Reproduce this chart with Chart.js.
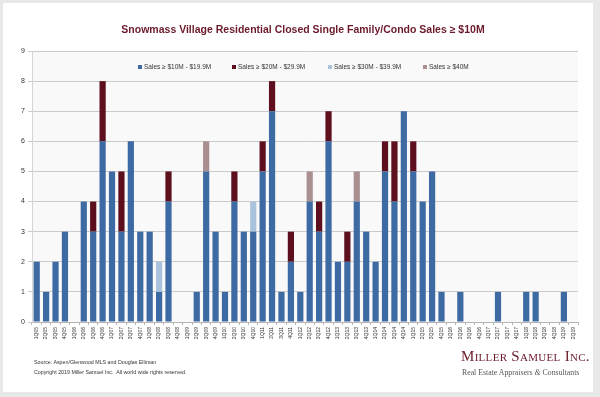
<!DOCTYPE html>
<html>
<head>
<meta charset="utf-8">
<script src="https://cdn.jsdelivr.net/npm/chart.js@4.4.0/dist/chart.umd.min.js"></script>
<style>
    body { margin: 0; background: #e8e8e8; width: 600px; height: 397px; overflow: hidden; }
    .card { position: absolute; left: 3px; top: 3px; width: 590px; height: 389px; background: #fff; }
    #chart { position: absolute; left: 0; top: 0; }
    .note { position: absolute; left: 34px; font-family: Arial, "Liberation Sans", sans-serif; font-size: 5.3px; color: #333; }
    .logo { position: absolute; left: 461px; top: 348px; font-family: "Liberation Serif", "Times New Roman", serif; font-variant: small-caps; font-size: 15px; color: #6b1a2a; letter-spacing: 0.3px; }
    .tag { position: absolute; left: 462px; top: 368px; font-family: "Liberation Serif", "Times New Roman", serif; font-size: 7.8px; color: #555; }
</style>
</head>
<body>
<div class="card"></div>
<canvas id="chart" width="600" height="397"></canvas>
<div class="note" style="top:359px">Source: Aspen/Glenwood MLS and Douglas Elliman</div>
<div class="note" style="top:369px">Copyright 2019 Miller Samuel Inc.&nbsp; All world wide rights reserved.</div>
<div class="logo">Miller Samuel Inc.</div>
<div class="tag">Real Estate Appraisers <i>&amp;</i> Consultants</div>
<script>
// Quarters 1Q05 .. 2Q19
const quarters = [
    '1Q05', '2Q05', '3Q05', '4Q05', '1Q06', '2Q06', '3Q06', '4Q06',
    '1Q07', '2Q07', '3Q07', '4Q07', '1Q08', '2Q08', '3Q08', '4Q08',
    '1Q09', '2Q09', '3Q09', '4Q09', '1Q10', '2Q10', '3Q10', '4Q10',
    '1Q11', '2Q11', '3Q11', '4Q11', '1Q12', '2Q12', '3Q12', '4Q12',
    '1Q13', '2Q13', '3Q13', '4Q13', '1Q14', '2Q14', '3Q14', '4Q14',
    '1Q15', '2Q15', '3Q15', '4Q15', '1Q16', '2Q16', '3Q16', '4Q16',
    '1Q17', '2Q17', '3Q17', '4Q17', '1Q18', '2Q18', '3Q18', '4Q18',
    '1Q19', '2Q19'
];

const sales10to20 = [
    2, 1, 2, 3, 0, 4, 3, 6,
    5, 3, 6, 3, 3, 1, 4, 0,
    0, 1, 5, 3, 1, 4, 3, 3,
    5, 7, 1, 2, 1, 4, 3, 6,
    2, 2, 4, 3, 2, 5, 4, 7,
    5, 4, 5, 1, 0, 1, 0, 0,
    0, 1, 0, 0, 1, 1, 0, 0,
    1, 0
];
const sales20to30 = [
    0, 0, 0, 0, 0, 0, 1, 2,
    0, 2, 0, 0, 0, 0, 1, 0,
    0, 0, 0, 0, 0, 1, 0, 0,
    1, 1, 0, 1, 0, 0, 1, 1,
    0, 1, 0, 0, 0, 1, 2, 0,
    1, 0, 0, 0, 0, 0, 0, 0,
    0, 0, 0, 0, 0, 0, 0, 0,
    0, 0
];
const sales30to40 = [
    0, 0, 0, 0, 0, 0, 0, 0,
    0, 0, 0, 0, 0, 1, 0, 0,
    0, 0, 0, 0, 0, 0, 0, 1,
    0, 0, 0, 0, 0, 0, 0, 0,
    0, 0, 0, 0, 0, 0, 0, 0,
    0, 0, 0, 0, 0, 0, 0, 0,
    0, 0, 0, 0, 0, 0, 0, 0,
    0, 0
];
const sales40plus = [
    0, 0, 0, 0, 0, 0, 0, 0,
    0, 0, 0, 0, 0, 0, 0, 0,
    0, 0, 1, 0, 0, 0, 0, 0,
    0, 0, 0, 0, 0, 1, 0, 0,
    0, 0, 1, 0, 0, 0, 0, 0,
    0, 0, 0, 0, 0, 0, 0, 0,
    0, 0, 0, 0, 0, 0, 0, 0,
    0, 0
];

const seriesLabels = ['Sales \u2265 $10M - $19.9M', 'Sales \u2265 $20M - $29.9M', 'Sales \u2265 $30M - $39.9M', 'Sales \u2265 $40M'];
const seriesColors = ['#3e6aa4', '#5e0f1d', '#a9c3dc', '#a98f90'];
const chartTitle = 'Snowmass Village Residential Closed Single Family/Condo Sales \u2265 $10M';

// Light plot background
const plotBackground = {
    id: 'plotBackground',
    beforeDraw(chart) {
        const { ctx, chartArea } = chart;
        ctx.save();
        ctx.fillStyle = '#f9f9f9';
        ctx.fillRect(chartArea.left, chartArea.top, chartArea.width, chartArea.height);
        ctx.restore();
    }
};

// Title is centred on the card, not on the plot
const cardTitle = {
    id: 'cardTitle',
    afterDraw(chart) {
        const ctx = chart.ctx;
        ctx.save();
        ctx.font = 'bold 10.5px Arial, "Liberation Sans", sans-serif';
        ctx.fillStyle = '#6b1a2a';
        ctx.textAlign = 'center';
        ctx.textBaseline = 'middle';
        ctx.fillText(chartTitle, 303, 30);
        ctx.restore();
    }
};

// Legend sits inside the plot area, like the original
const innerLegend = {
    id: 'innerLegend',
    afterDatasetsDraw(chart) {
        const ctx = chart.ctx;
        const xs = [138, 232, 328, 423];
        const y = chart.chartArea.top + 16;
        ctx.save();
        ctx.font = '6.5px Arial, "Liberation Sans", sans-serif';
        ctx.textBaseline = 'middle';
        chart.data.datasets.forEach((ds, i) => {
            ctx.fillStyle = ds.backgroundColor;
            ctx.fillRect(xs[i], y - 2, 4, 4);
            ctx.fillStyle = '#333';
            ctx.fillText(ds.label, xs[i] + 6, y);
        });
        ctx.restore();
    }
};

new Chart(document.getElementById('chart').getContext('2d'), {
    type: 'bar',
    data: {
        labels: quarters,
        datasets: [sales10to20, sales20to30, sales30to40, sales40plus].map((values, i) => ({
            label: seriesLabels[i],
            data: values,
            backgroundColor: seriesColors[i],
            borderWidth: 0,
            barPercentage: 0.66,
            categoryPercentage: 1
        }))
    },
    options: {
        responsive: false,
        animation: false,
        layout: {
            padding: { left: 8, right: 22, top: 51, bottom: 45 }
        },
        plugins: {
            legend: { display: false },
            tooltip: { enabled: false },
            title: { display: false }
        },
        scales: {
            x: {
                stacked: true,
                grid: {
                    drawOnChartArea: false,
                    drawTicks: true,
                    tickLength: 3,
                    color: '#b5b5b5'
                },
                border: { color: '#b5b5b5' },
                ticks: {
                    autoSkip: false,
                    maxRotation: 90,
                    minRotation: 90,
                    padding: 2,
                    color: '#333',
                    font: { family: 'Arial, "Liberation Sans", sans-serif', size: 5 }
                },
                afterFit(scale) { scale.height = 30; }
            },
            y: {
                stacked: true,
                min: 0,
                max: 9,
                grid: {
                    color: '#cacaca',
                    tickLength: 4
                },
                border: { color: '#d5d5d5' },
                ticks: {
                    stepSize: 1,
                    padding: 3,
                    color: '#333',
                    font: { family: 'Arial, "Liberation Sans", sans-serif', size: 7 }
                },
                afterFit(scale) { scale.width = 24; }
            }
        }
    },
    plugins: [plotBackground, innerLegend, cardTitle]
});
</script>
</body>
</html>
